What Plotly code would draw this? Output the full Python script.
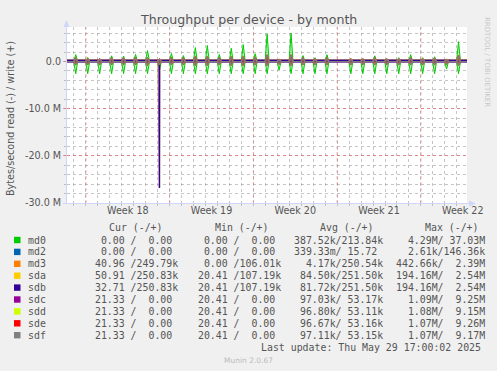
import plotly.graph_objects as go
import pandas as pd

# ---------------- data ----------------
range_start = "2025-04-26 10:00"
range_end = "2025-05-29 20:30"
first_spike = "2025-04-27 03:30"      # daily activity burst, one per day
n_days = 33

# md0 daily peaks (bytes/s), write positive, read negative
md0_write_peak = [1.45e6, 0.85e6, 0.40e6, 1.20e6, 1.15e6, 1.50e6, 2.30e6, 0.0,
                  1.70e6, 1.25e6, 2.95e6, 3.40e6, 1.50e6, 2.80e6, 3.60e6, 1.65e6,
                  5.85e6, 0.0, 6.00e6, 1.25e6, 0.80e6, 1.45e6, 0.0, 0.25e6,
                  0.60e6, 1.20e6, 0.20e6, 0.80e6, 1.45e6, 0.80e6, 1.00e6, 0.0, 4.20e6]
md0_read_peak = [-2.6e6, -2.6e6, -2.6e6, -2.6e6, -2.6e6, -2.6e6, -2.6e6, -1.9e6,
                 -2.6e6, -2.6e6, -2.6e6, -2.6e6, -2.6e6, -2.6e6, -2.6e6, -2.6e6,
                 -2.6e6, -1.8e6, -2.6e6, -2.6e6, -2.6e6, -2.6e6, 0.0, -2.6e6,
                 -2.6e6, -2.6e6, -2.6e6, -2.6e6, -2.6e6, -2.6e6, -2.6e6, -1.6e6, -2.6e6]

# member disks sdc..sdf (nearly identical), daily peaks
member_write_peak = [0.7e6, 0.5e6, 0.5e6, 0.7e6, 0.7e6, 0.7e6, 0.7e6, 0.5e6,
                     0.7e6, 0.7e6, 1.0e6, 1.0e6, 0.7e6, 1.0e6, 1.0e6, 0.7e6,
                     1.4e6, 0.4e6, 1.4e6, 0.7e6, 0.5e6, 0.7e6, 0.0, 0.5e6,
                     0.5e6, 0.7e6, 0.5e6, 0.5e6, 0.7e6, 0.5e6, 0.6e6, 0.4e6, 1.3e6]
member_read_peak = [-0.6e6, -0.6e6, -0.6e6, -0.6e6, -0.6e6, -0.6e6, -0.7e6, -0.6e6,
                    -0.6e6, -0.6e6, -0.7e6, -0.7e6, -0.6e6, -0.7e6, -0.7e6, -0.6e6,
                    -0.8e6, -0.5e6, -0.8e6, -0.6e6, -0.6e6, -0.6e6, 0.0, -0.6e6,
                    -0.6e6, -0.6e6, -0.6e6, -0.6e6, -0.6e6, -0.6e6, -0.6e6, -0.5e6, -0.7e6]

# sda / sdb: steady write level, one huge read on day index 7
sdab_write_level = 0.25e6
sdab_read_level = -0.08e6
sdab_read_peak = [0.0] * 7 + [-26.8e6] + [0.0] * 25
md3_write_level = 0.25e6

week_starts = ["2025-04-28", "2025-05-05", "2025-05-12", "2025-05-19", "2025-05-26"]
week_labels = ["Week 18", "Week 19", "Week 20", "Week 21", "Week 22"]
y_tick_vals = [0, -10e6, -20e6, -30e6]
y_tick_text = ["0.0", "-10.0 M", "-20.0 M", "-30.0 M"]

names = ["md0", "md2", "md3", "sda", "sdb", "sdc", "sdd", "sde", "sdf"]
colors = ["#00CC00", "#0066B3", "#FF8000", "#FFCC00", "#330099",
          "#990099", "#CCFF00", "#FF0000", "#808080"]
cur_r = ["0.00", "0.00", "40.96", "50.91", "32.71", "21.33", "21.33", "21.33", "21.33"]
cur_w = ["0.00", "0.00", "249.79k", "250.83k", "250.83k", "0.00", "0.00", "0.00", "0.00"]
min_r = ["0.00", "0.00", "0.00", "20.41", "20.41", "20.41", "20.41", "20.41", "20.41"]
min_w = ["0.00", "0.00", "106.01k", "107.19k", "107.19k", "0.00", "0.00", "0.00", "0.00"]
avg_r = ["387.52k", "339.33m", "4.17k", "84.50k", "81.72k", "97.03k", "96.80k", "96.67k", "97.11k"]
avg_w = ["213.84k", "15.72", "250.54k", "251.50k", "251.50k", "53.17k", "53.11k", "53.16k", "53.15k"]
max_r = ["4.29M", "2.61k", "442.66k", "194.16M", "194.16M", "1.09M", "1.08M", "1.07M", "1.07M"]
max_w = ["37.03M", "146.36k", "2.39M", "2.54M", "2.54M", "9.25M", "9.15M", "9.26M", "9.17M"]
last_update = "Last update: Thu May 29 17:00:02 2025"

# ---------------- build series ----------------
days = pd.date_range(first_spike, periods=n_days, freq="D")


def series(level, peaks, half_h=4.0, right_h=None):
    left = pd.Timedelta(hours=half_h)
    right = pd.Timedelta(hours=half_h if right_h is None else right_h)
    xs = [pd.Timestamp(range_start)]
    ys = [level]
    for t, p in zip(days, peaks):
        xs += [t - left, t, t + right]
        ys += [level, p if p != 0 else level, level]
    xs.append(pd.Timestamp(range_end))
    ys.append(level)
    return xs, ys


fig = go.Figure()


def add(xs, ys, color, width=1.0, fill=None, fillcolor=None, opacity=1.0):
    fig.add_trace(go.Scatter(x=xs, y=ys, mode="lines", line=dict(color=color, width=width),
                             fill=fill, fillcolor=fillcolor, opacity=opacity,
                             hoverinfo="skip", showlegend=False))


zeros = [0.0] * n_days
# md0
x, y = series(0.0, md0_read_peak)
add(x, y, colors[0], 1.0, "tozeroy", "rgba(90,230,90,0.45)")
x, y = series(0.0, md0_write_peak)
add(x, y, colors[0], 1.0, "tozeroy", "rgba(90,230,90,0.45)")
# md2
x, y = series(0.0, zeros)
add(x, y, colors[1])
# md3
x, y = series(md3_write_level, zeros)
add(x, y, colors[2])
# sda (underneath, blended with sdb it shows as a mauve edge), then sdb on top
x, y = series(sdab_read_level, sdab_read_peak, 3.0, 0.3)
add(x, y, colors[3], 1.5, opacity=0.55)
x, y = series(sdab_write_level, zeros)
add(x, y, colors[3], 1.6)
x, y = series(sdab_read_level, sdab_read_peak, 3.0, 0.3)
add(x, y, colors[4], 1.0, opacity=0.45)
x, y = series(sdab_read_level, sdab_read_peak, 0.3, 0.3)
add(x, y, colors[4], 1.4)
x, y = series(sdab_write_level, zeros)
add(x, y, colors[4], 1.8)
# members sdc..sdf
for c in colors[5:]:
    x, y = series(0.0, member_read_peak)
    add(x, y, c, 1.2, "tozeroy", "rgba(140,100,90,0.35)", opacity=0.8)
    x, y = series(0.0, member_write_peak)
    add(x, y, c, 1.2, "tozeroy", "rgba(140,100,90,0.35)", opacity=0.8)

# ---------------- layout ----------------
L, R, T, B = 67, 467, 27, 203
W, H = 497, 371


def fx(px):
    return (px - L) / (R - L)


def fy(py):
    return (B - py) / (B - T)


FONT = "#555555"
GRID = "rgba(150,150,150,0.55)"
MGRID = "rgba(240,80,80,0.55)"
AXIS = "#CFD6F8"

label_pos = [pd.Timestamp(w) + pd.Timedelta(hours=84) for w in week_starts]

fig.update_layout(
    width=W, height=H, autosize=False,
    margin=dict(l=L, r=W - R, t=T, b=H - B, pad=0),
    paper_bgcolor="#F0F0F0", plot_bgcolor="#FFFFFF",
    font=dict(family="DejaVu Sans", size=10, color=FONT),
    xaxis=dict(
        type="date", range=[range_start, range_end],
        tickmode="array", tickvals=label_pos, ticktext=week_labels,
        showgrid=False, zeroline=False, showline=False, ticks="",
        tickfont=dict(size=9.6, color=FONT, family="DejaVu Sans"),
        minor=dict(tickmode="linear", tick0="2025-04-28", dtick=86400000,
                   showgrid=True, gridcolor=GRID, griddash="dot", gridwidth=1,
                   ticks="outside", ticklen=2, tickcolor=GRID),
    ),
    yaxis=dict(
        range=[-30e6, 7.31e6], tickmode="array", tickvals=y_tick_vals, ticktext=y_tick_text,
        showgrid=True, gridcolor=MGRID, griddash="dot", gridwidth=1,
        zeroline=False, showline=False, ticks="outside", ticklen=3, tickcolor=MGRID,
        tickfont=dict(size=9.6, color=FONT, family="DejaVu Sans"),
        minor=dict(tickmode="linear", tick0=0, dtick=2e6, showgrid=True, gridcolor=GRID,
                   griddash="dot", gridwidth=1, ticks="outside", ticklen=2, tickcolor=GRID),
    ),
)

shapes = []
for w in week_starts:
    shapes.append(dict(type="line", xref="x", yref="paper", x0=w, x1=w, y0=0, y1=1,
                       line=dict(color=MGRID, width=1, dash="dot"), layer="between"))
# axis lines + arrows
shapes.append(dict(type="line", xref="paper", yref="paper", x0=fx(66.5), x1=fx(66.5),
                   y0=fy(204), y1=fy(24), line=dict(color=AXIS, width=1)))
shapes.append(dict(type="line", xref="paper", yref="paper", x0=fx(63), x1=fx(470),
                   y0=fy(203.5), y1=fy(203.5), line=dict(color=AXIS, width=1)))
shapes.append(dict(type="path", xref="paper", yref="paper",
                   path=f"M {fx(63.5)},{fy(27)} L {fx(69.5)},{fy(27)} L {fx(66.5)},{fy(20)} Z",
                   fillcolor=AXIS, line=dict(color=AXIS, width=0)))
shapes.append(dict(type="path", xref="paper", yref="paper",
                   path=f"M {fx(469)},{fy(200.5)} L {fx(469)},{fy(206.5)} L {fx(476)},{fy(203.5)} Z",
                   fillcolor=AXIS, line=dict(color=AXIS, width=0)))

annotations = []


def text(px, py, s, size=9.9, family="DejaVu Sans Mono", color=FONT, xanchor="left", angle=0):
    annotations.append(dict(xref="paper", yref="paper", x=fx(px), y=fy(py), text=s,
                            showarrow=False, xanchor=xanchor, yanchor="middle",
                            textangle=angle, font=dict(family=family, size=size, color=color)))


text(248, 19, "Throughput per device - by month", size=12.6, family="DejaVu Sans",
     xanchor="center")
text(10, 119, "Bytes/second read (-) / write (+)", size=9.6, family="DejaVu Sans",
     xanchor="center", angle=-90)
text(487, 62, "RRDTOOL / TOBI OETIKER", size=7, family="DejaVu Sans", color="#C8C8C8",
     xanchor="center", angle=90)

NB = "\u00a0"


def field(v):
    if v[-1].isalpha():
        num, suf = v[:-1], v[-1]
    else:
        num, suf = v, " "
    return (num.rjust(6) + suf).replace(" ", NB)


def cell(r, w):
    return field(r) + "/" + field(w)


text(107.3, 227.5, "Cur (-/+)".replace(" ", NB))
text(212.7, 227.5, "Min (-/+)".replace(" ", NB))
text(318.3, 227.5, "Avg (-/+)".replace(" ", NB))
text(422.7, 227.5, "Max (-/+)".replace(" ", NB))

for i, n in enumerate(names):
    yy = 240 + 11.9 * i
    shapes.append(dict(type="rect", xref="paper", yref="paper", x0=fx(14), x1=fx(20.5),
                       y0=fy(yy - 3.2), y1=fy(yy + 3.2), fillcolor=colors[i],
                       line=dict(width=0)))
    text(26, yy, n)
    text(87.3, yy, cell(cur_r[i], cur_w[i]))
    text(189.6, yy, cell(min_r[i], min_w[i]))
    text(292, yy, cell(avg_r[i], avg_w[i]))
    text(394, yy, cell(max_r[i], max_w[i]))

text(483, 347.5, last_update.replace(" ", NB), xanchor="right")
text(248, 360.5, "Munin 2.0.67", size=7.5, family="DejaVu Sans", color="#BBBBBB",
     xanchor="center")

fig.update_layout(shapes=shapes, annotations=annotations)
fig.write_html("out.html", config={"displayModeBar": False},
               post_script="document.body.style.margin='0px';document.body.style.padding='0px';")
